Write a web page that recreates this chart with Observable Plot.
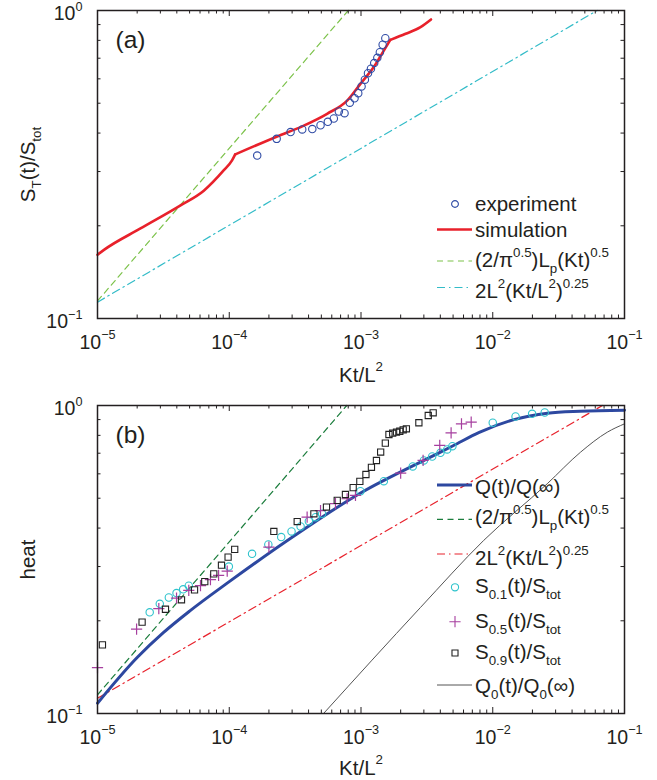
<!DOCTYPE html>
<html><head><meta charset="utf-8">
<script src="https://cdn.jsdelivr.net/npm/d3@7"></script>
<script src="https://cdn.jsdelivr.net/npm/@observablehq/plot@0.6"></script>
<style>body{margin:0;background:#fff;} #chart{width:657px;}</style>
</head><body><div id="chart"></div>
<script>
// ---------- axis ticks / labels ----------
const xMajor = [1e-5, 1e-4, 1e-3, 1e-2, 1e-1];
const xMinor = [2e-5,3e-5,4e-5,5e-5,6e-5,7e-5,8e-5,9e-5,
                2e-4,3e-4,4e-4,5e-4,6e-4,7e-4,8e-4,9e-4,
                2e-3,3e-3,4e-3,5e-3,6e-3,7e-3,8e-3,9e-3,
                2e-2,3e-2,4e-2,5e-2,6e-2,7e-2,8e-2,9e-2];
const xTickLabels = ["10^{−5}", "10^{−4}", "10^{−3}", "10^{−2}", "10^{−1}"];
const yMajor = [0.1, 1];
const yMinor = [0.2, 0.3, 0.4, 0.5, 0.6, 0.7, 0.8, 0.9];
const yTickLabels = ["10^{−1}", "10^{0}"];
const xTitle = "Kt/L^{2}";
const yTitleA = "S_{T}(t)/S_{tot}";
const yTitleB = "heat";

// ---------- panel (a) ----------
const expX = [1.63e-4, 2.29e-4, 2.92e-4, 3.58e-4, 4.27e-4, 4.93e-4, 5.6e-4, 6.22e-4, 6.79e-4, 7.5e-4, 8.22e-4, 8.93e-4, 9.53e-4, 1.01e-3, 1.07e-3, 1.13e-3, 1.19e-3, 1.26e-3, 1.33e-3, 1.39e-3, 1.46e-3, 1.53e-3];
const expY = [0.338, 0.383, 0.403, 0.411, 0.412, 0.424, 0.435, 0.446, 0.470, 0.464, 0.502, 0.519, 0.539, 0.567, 0.596, 0.626, 0.647, 0.675, 0.702, 0.732, 0.774, 0.813];
// simulation curve, in three pieces joined at its two kinks
const simX = [1.0e-5, 1.12e-5, 2.12e-5, 4.27e-5, 6.41e-5, 9.1e-5, 1.05e-4, 1.11e-4,
              1.11e-4, 2.31e-4, 3.68e-4, 5.53e-4, 7.85e-4, 9.9e-4, 1.25e-3, 1.49e-3, 1.67e-3,
              1.67e-3, 2.18e-3, 2.83e-3, 3.4e-3];
const simY = [0.161, 0.167, 0.196, 0.233, 0.260, 0.303, 0.326, 0.341,
              0.341, 0.390, 0.423, 0.462, 0.510, 0.578, 0.655, 0.741, 0.803,
              0.803, 0.840, 0.883, 0.935];
const simPiece = [0,0,0,0,0,0,0,0, 1,1,1,1,1,1,1,1,1, 2,2,2,2];
const sqrtAX = [1e-5, 8.0e-4];
const sqrtAY = [0.114, 1];
const quarterAX = [1e-5, 0.062];
const quarterAY = [0.113, 1];

// ---------- panel (b) ----------
const qX = [1e-5, 2e-5, 3.16e-5, 5e-5, 1e-4, 3.16e-4, 1e-3, 3.16e-3, 5e-3, 7.9e-3, 1.45e-2, 2.6e-2, 4.6e-2, 0.1];
const qY = [0.108, 0.152, 0.183, 0.215, 0.268, 0.379, 0.521, 0.671, 0.740, 0.818, 0.900, 0.944, 0.958, 0.965];
const sqrtBX = [1e-5, 7.8e-4];
const sqrtBY = [0.115, 1];
const quarterBX = [1e-5, 0.068];
const quarterBY = [0.112, 1];
const q0X = [5.2e-4, 2.83e-3, 8.55e-3, 2.59e-2, 4.63e-2, 7.4e-2, 0.1];
const q0Y = [0.1, 0.221, 0.365, 0.557, 0.705, 0.819, 0.872];
const s01X = [2.49e-5, 2.97e-5, 3.48e-5, 3.98e-5, 4.47e-5, 4.93e-5, 9.93e-5, 1.49e-4, 1.98e-4, 2.48e-4, 2.97e-4, 3.48e-4, 4.02e-4, 4.52e-4, 5.07e-4, 9.9e-4, 1.49e-3, 2.47e-3, 3.0e-3, 3.47e-3, 4.01e-3, 4.51e-3, 4.94e-3, 1.0e-2, 1.49e-2, 1.99e-2, 2.48e-2];
const s01Y = [0.213, 0.227, 0.238, 0.246, 0.253, 0.260, 0.300, 0.330, 0.354, 0.374, 0.390, 0.405, 0.421, 0.434, 0.445, 0.527, 0.568, 0.634, 0.663, 0.683, 0.702, 0.720, 0.738, 0.879, 0.921, 0.940, 0.949];
const s05X = [1.0e-5, 1.98e-5, 2.92e-5, 3.98e-5, 4.93e-5, 6.05e-5, 7.2e-5, 8.3e-5, 9.65e-5, 2.0e-4, 3.9e-4, 4.93e-4, 6.4e-4, 7.85e-4, 9.08e-4, 2.0e-3, 2.96e-3, 3.96e-3, 4.83e-3, 5.79e-3, 6.86e-3];
const s05Y = [0.141, 0.188, 0.219, 0.237, 0.251, 0.260, 0.272, 0.281, 0.290, 0.347, 0.434, 0.456, 0.480, 0.498, 0.511, 0.603, 0.663, 0.742, 0.815, 0.872, 0.883];
const s09X = [1.09e-5, 2.18e-5, 3.28e-5, 4.34e-5, 5.45e-5, 6.52e-5, 7.63e-5, 8.73e-5, 9.8e-5, 1.1e-4, 2.18e-4, 3.28e-4, 4.39e-4, 5.47e-4, 6.6e-4, 7.62e-4, 8.72e-4, 9.8e-4, 1.09e-3, 1.2e-3, 1.31e-3, 1.41e-3, 1.53e-3, 1.63e-3, 1.74e-3, 1.86e-3, 1.97e-3, 2.09e-3, 2.21e-3, 2.75e-3, 3.24e-3, 3.53e-3];
const s09Y = [0.167, 0.198, 0.218, 0.234, 0.252, 0.268, 0.284, 0.303, 0.322, 0.341, 0.390, 0.420, 0.445, 0.468, 0.492, 0.514, 0.541, 0.567, 0.597, 0.630, 0.663, 0.706, 0.755, 0.805, 0.813, 0.819, 0.825, 0.834, 0.840, 0.879, 0.928, 0.947];

const legendLabelsA = ["experiment", "simulation", "(2/π^{0.5})L_{p}(Kt)^{0.5}", "2L^{2}(Kt/L^{2})^{0.25}"];
const legendLabelsB = ["Q(t)/Q(∞)", "(2/π^{0.5})L_{p}(Kt)^{0.5}", "2L^{2}(Kt/L^{2})^{0.25}", "S_{0.1}(t)/S_{tot}", "S_{0.5}(t)/S_{tot}", "S_{0.9}(t)/S_{tot}", "Q_{0}(t)/Q_{0}(∞)"];

// ---------- styles ----------
const FONT = "'Liberation Sans', Arial, Helvetica, sans-serif";
const FS = 19.5;      // tick labels
const FS_T = 20.5;    // titles, legend
const INK = "#231f20";
const C = {
  exp: "#2f4ba5", sim: "#e8212b", sqrtA: "#7cc24a", quarterA: "#33bcc8",
  q: "#2d48a0", sqrtB: "#1b7d3c", quarterB: "#e8222c", q0: "#555555",
  s01: "#2ec3cc", s05: "#a63f9f", s09: "#222222"
};
const DASH = "6,4.5";
const DASHDOT = "8,4,1.5,4";
const W = 657, ML = 97, MR = 33, MT = 10;

function frameMarks(innerW, innerH) {
  const MAJ = 6, MIN = 3.5, st = {stroke: INK, strokeWidth: 1};
  return [
    Plot.tickX(xMajor, {x: d => d, insetTop: innerH - MAJ, ...st}),
    Plot.tickX(xMajor, {x: d => d, insetBottom: innerH - MAJ, ...st}),
    Plot.tickX(xMinor, {x: d => d, insetTop: innerH - MIN, ...st}),
    Plot.tickX(xMinor, {x: d => d, insetBottom: innerH - MIN, ...st}),
    Plot.tickY(yMinor, {y: d => d, insetRight: innerW - MIN, ...st}),
    Plot.tickY(yMinor, {y: d => d, insetLeft: innerW - MIN, ...st}),
    Plot.frame({stroke: INK, strokeWidth: 1.5}),
    Plot.text(xMajor, {x: d => d, frameAnchor: "bottom", text: (d, i) => xTickLabels[i], dy: 30, lineAnchor: "bottom", fill: INK}),
    Plot.text(yMajor, {y: d => d, frameAnchor: "left", text: (d, i) => yTickLabels[i], dx: -15, dy: 3.5, textAnchor: "end", lineAnchor: "middle", fill: INK})
  ];
}

function makePlot(height, mb, marks, yTitle, xTitleDy, letter) {
  const innerW = W - ML - MR, innerH = height - MT - mb;
  return Plot.plot({
    width: W, height, marginLeft: ML, marginRight: MR, marginTop: MT, marginBottom: mb,
    style: {fontFamily: FONT, fontSize: FS + "px", background: "#fff", color: INK, overflow: "visible"},
    x: {type: "log", domain: [1e-5, 1e-1], axis: null},
    y: {type: "log", domain: [0.1, 1], axis: null},
    marks: [
      ...marks,
      ...frameMarks(innerW, innerH),
      Plot.text([xTitle], {frameAnchor: "bottom", dy: xTitleDy, lineAnchor: "bottom", fontSize: FS_T, fill: INK}),
      Plot.text([yTitle], {frameAnchor: "left", dx: -69, rotate: -90, lineAnchor: "middle", textAnchor: "middle", fontSize: FS_T, fill: INK}),
      Plot.text([letter], {frameAnchor: "top-left", dx: 18, dy: 30, textAnchor: "start", lineAnchor: "middle", fontSize: 24.5, fill: INK})
    ]
  });
}

const plotA = makePlot(395, 77, [
  Plot.line(sqrtAX, {x: sqrtAX, y: sqrtAY, stroke: C.sqrtA, strokeWidth: 1.2, strokeDasharray: DASH}),
  Plot.line(quarterAX, {x: quarterAX, y: quarterAY, stroke: C.quarterA, strokeWidth: 1.2, strokeDasharray: DASHDOT}),
  Plot.line(simX, {x: simX, y: simY, z: simPiece, stroke: C.sim, strokeWidth: 2.6, curve: "monotone-x"}),
  Plot.dot(expX, {x: expX, y: expY, r: 3.7, stroke: C.exp, strokeWidth: 1.1, fill: "none"})
], yTitleA, 63, "(a)");

const plotB = makePlot(385, 67, [
  Plot.line(q0X, {x: q0X, y: q0Y, stroke: C.q0, strokeWidth: 1, curve: "monotone-x"}),
  Plot.line(sqrtBX, {x: sqrtBX, y: sqrtBY, stroke: C.sqrtB, strokeWidth: 1.2, strokeDasharray: DASH}),
  Plot.line(quarterBX, {x: quarterBX, y: quarterBY, stroke: C.quarterB, strokeWidth: 1.2, strokeDasharray: DASHDOT}),
  Plot.line(qX, {x: qX, y: qY, stroke: C.q, strokeWidth: 3, curve: "monotone-x"}),
  Plot.dot(s01X, {x: s01X, y: s01Y, r: 3.7, stroke: C.s01, strokeWidth: 1.1, fill: "none"}),
  Plot.dot(s05X, {x: s05X, y: s05Y, r: 3.7, symbol: "plus", stroke: C.s05, strokeWidth: 1.2, fill: "none"}),
  Plot.dot(s09X, {x: s09X, y: s09Y, r: 3.5, symbol: "square", stroke: C.s09, strokeWidth: 1.1, fill: "none"})
], yTitleB, 61, "(b)");

const chart = document.getElementById("chart");
chart.appendChild(plotA);
chart.appendChild(plotB);

// ---------- legends ----------
function drawLegend(svgEl, labels, styles, rows) {
  const g = d3.select(svgEl).append("g")
    .attr("font-family", FONT).attr("font-size", FS_T).attr("fill", INK).attr("text-anchor", "start");
  labels.forEach((label, i) => {
    const s = styles[i], [sy, by] = rows[i];
    if (s.kind === "line") {
      g.append("line").attr("x1", 437).attr("x2", 472).attr("y1", sy).attr("y2", sy)
        .attr("stroke", s.color).attr("stroke-width", s.width).attr("stroke-dasharray", s.dash || null);
    } else {
      g.append("path").attr("transform", `translate(455,${sy})`)
        .attr("d", d3.symbol(s.symbol, Math.PI * s.r * s.r)())
        .attr("fill", "none").attr("stroke", s.color).attr("stroke-width", 1.1);
    }
    g.append("text").attr("x", 475).attr("y", by).text(label);
  });
}
drawLegend(plotA, legendLabelsA, [
  {kind: "sym", symbol: d3.symbolCircle, r: 3.4, color: C.exp},
  {kind: "line", color: C.sim, width: 2.6},
  {kind: "line", color: C.sqrtA, width: 1.2, dash: DASH},
  {kind: "line", color: C.quarterA, width: 1.2, dash: DASHDOT}
], [[204, 210.5], [229.5, 236.5], [261, 267], [287.5, 298]]);
drawLegend(plotB, legendLabelsB, [
  {kind: "line", color: C.q, width: 3},
  {kind: "line", color: C.sqrtB, width: 1.2, dash: DASH},
  {kind: "line", color: C.quarterB, width: 1.2, dash: DASHDOT},
  {kind: "sym", symbol: d3.symbolCircle, r: 3.6, color: C.s01},
  {kind: "sym", symbol: d3.symbolPlus, r: 3.7, color: C.s05},
  {kind: "sym", symbol: d3.symbolSquare, r: 3.4, color: C.s09},
  {kind: "line", color: C.q0, width: 1}
], [[90, 99], [124.3, 129], [159, 170], [192.3, 198], [226.7, 233], [258, 264], [290, 298]]);

// ---------- superscripts / subscripts ----------
const NS = "http://www.w3.org/2000/svg";
function richify(root) {
  root.querySelectorAll("text").forEach(t => {
    const s = t.textContent;
    if (!/[\^_]\{/.test(s)) return;
    const fs = parseFloat(getComputedStyle(t).fontSize) || FS;
    const re = /([\^_])\{([^}]*)\}|([^\^_]+)/g;
    const parts = [];
    let m;
    while ((m = re.exec(s))) parts.push(m[3] !== undefined ? {t: m[3], k: 0} : {t: m[2], k: m[1] === "^" ? 1 : -1});
    while (t.firstChild) t.removeChild(t.firstChild);
    let cur = 0;
    for (const p of parts) {
      const target = p.k === 1 ? -0.5 * fs : p.k === -1 ? 0.3 * fs : 0;
      const ts = document.createElementNS(NS, "tspan");
      if (target !== cur) ts.setAttribute("dy", (target - cur).toFixed(2));
      if (p.k) ts.setAttribute("font-size", (0.65 * fs).toFixed(2));
      ts.textContent = p.t;
      t.appendChild(ts);
      cur = target;
    }
  });
}
richify(plotA);
richify(plotB);
</script></body></html>
